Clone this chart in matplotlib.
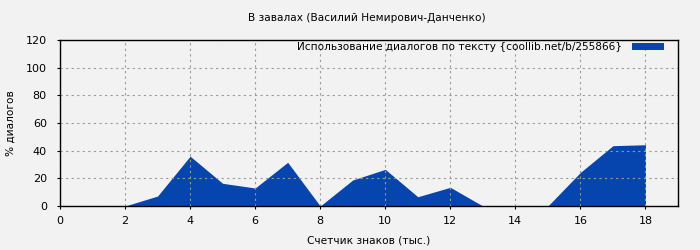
import matplotlib
matplotlib.use("Agg")
import matplotlib.pyplot as plt

# data
x_vals = [2, 3, 4, 5, 6, 7, 8, 9, 10, 11, 12, 13, 14, 15, 16, 17, 18]
y_vals = [0, 7.2, 36, 16.4, 13, 31.6, 0, 18.8, 26.5, 6.7, 13.5, 0, 0, 0, 24.3, 43.6, 44.3]
x_ticks = [0, 2, 4, 6, 8, 10, 12, 14, 16, 18]
y_ticks = [0, 20, 40, 60, 80, 100, 120]

BG = '#f2f2f2'
BLUE = '#0645ad'
FS = 7.6

fig = plt.figure(figsize=(7, 2.5), dpi=100)
fig.patch.set_facecolor(BG)
ax = fig.add_axes([60/700, 1-206/250, 618/700, 166/250])
ax.set_facecolor(BG)

ax.fill_between(x_vals, y_vals, 0, color=BLUE, linewidth=0,
                label="Использование диалогов по тексту {coollib.net/b/255866}")

ax.set_xlim(0, 19)
ax.set_ylim(0, 120)
ax.set_xticks(x_ticks)
ax.set_yticks(y_ticks)
ax.tick_params(labelsize=FS + 0.4, length=2.5)
ax.tick_params(axis='y', pad=7)
ax.tick_params(axis='x', pad=5)
ax.grid(color='#999999', linestyle=(0, (2, 3)), linewidth=0.8)
for s in ax.spines.values():
    s.set_linewidth(1)

ax.set_xlabel("Счетчик знаков (тыс.)", fontsize=FS, labelpad=6.5)
ax.set_ylabel("% диалогов", fontsize=FS, labelpad=7)
fig.text(367/700, 1-18/250, "В завалах (Василий Немирович-Данченко)",
         ha='center', va='center', fontsize=FS)

ax.legend(loc='center right', bbox_to_anchor=(1 - 14/618, 1 - 7/166),
          frameon=False, fontsize=FS, markerfirst=False,
          handlelength=3.0, handleheight=0.6, handletextpad=0.95,
          borderaxespad=0, borderpad=0)

fig.savefig("out.png", dpi=100, facecolor=BG)
